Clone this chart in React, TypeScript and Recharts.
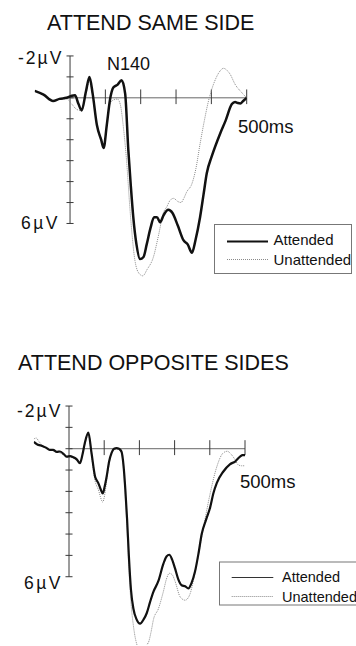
import React from "react";
import { LineChart, Line, XAxis, YAxis, ReferenceLine } from "recharts";

// time ticks (ms) and amplitude ticks (µV, negative up)
const timeTicks = [100, 200, 300, 400, 500];
const voltTicks = [-2, -1, 0, 1, 2, 3, 4, 5, 6];

// ATTEND SAME SIDE
const sameAttendedTimes = [-100, -75, -48, -30, -10, 5, 14, 24, 33, 45, 55, 64, 76, 88, 95, 104, 113, 123, 134, 146, 156, 165, 172, 179, 188, 198, 208, 217, 228, 238, 246, 255, 265, 278, 290, 305, 321, 333, 345, 355, 368, 378, 387, 401, 425, 440, 458, 467, 475, 482, 490, 500];
const sameAttendedValues = [-0.33, -0.15, 0.15, 0.05, 0.0, -0.1, -0.12, 0.3, 0.6, -0.3, -1.0, -0.2, 1.3, 2.0, 2.4, 1.3, 0.1, -0.5, -0.62, -0.84, -0.2, 2.5, 4.2, 5.7, 7.0, 7.7, 7.6, 7.0, 6.2, 5.7, 5.7, 5.94, 5.6, 5.35, 5.5, 6.1, 6.8, 7.0, 7.4, 6.8, 5.7, 4.6, 3.6, 2.8, 1.7, 1.1, 0.3, 0.2, 0.25, 0.27, 0.15, 0.0];

const sameUnattendedTimes = [-100, -75, -48, -30, -10, 5, 15, 28, 33, 45, 55, 64, 76, 88, 96, 104, 113, 123, 134, 142, 151, 160, 170, 184, 196, 206, 218, 236, 250, 264, 274, 283, 293, 305, 314, 322, 330, 345, 356, 368, 380, 392, 401, 412, 425, 434, 445, 453, 467, 486, 500];
const sameUnattendedValues = [-0.33, -0.15, 0.14, 0.05, 0.05, 0.3, 0.5, 0.6, 0.55, -0.2, -0.8, -0.1, 1.3, 1.9, 2.3, 1.3, 0.3, 0.1, 0.06, 0.3, 1.4, 3.0, 5.4, 7.8, 8.4, 8.5, 8.2, 7.6, 6.6, 5.5, 5.2, 4.9, 4.8, 4.95, 5.0, 4.8, 4.5, 4.1, 3.4, 2.2, 1.1, 0.14, -0.4, -0.9, -1.29, -1.41, -1.3, -1.13, -0.65, -0.25, 0.0];

// ATTEND OPPOSITE SIDES
const oppAttendedTimes = [-100, -90, -80, -73, -65, -55, -45, -35, -26, -15, -7, 3, 12, 22, 31, 38, 45, 55, 64, 74, 83, 90, 96, 101, 107, 114, 121, 128, 135, 142, 149, 155, 160, 165, 170, 176, 183, 192, 202, 212, 221, 230, 240, 254, 268, 277, 285, 293, 301, 310, 320, 330, 339, 348, 358, 368, 377, 390, 401, 410, 420, 438, 457, 472, 486, 493, 500];
const oppAttendedValues = [-0.32, -0.2, -0.15, -0.1, -0.05, 0.05, 0.05, 0.15, 0.13, 0.25, 0.37, 0.35, 0.4, 0.5, 0.68, 0.3, -0.27, -0.75, 0.2, 1.3, 1.6, 1.9, 2.1, 1.8, 1.3, 0.6, 0.2, 0.0, -0.03, 0.0, 0.13, 0.8, 1.9, 3.3, 5.0, 6.6, 7.5, 8.0, 8.2, 8.0, 7.7, 7.2, 6.7, 6.2, 5.4, 5.05, 4.97, 5.2, 5.6, 6.1, 6.4, 6.45, 6.55, 6.3, 5.76, 4.9, 4.0, 3.3, 2.75, 2.1, 1.6, 1.08, 0.73, 0.6, 0.37, 0.3, 0.3];

const oppUnattendedTimes = [-100, -93, -86, -75, -65, -55, -45, -35, -26, -15, -7, 3, 12, 22, 31, 38, 45, 55, 64, 74, 83, 96, 101, 107, 114, 121, 135, 149, 155, 160, 165, 170, 176, 183, 190, 197, 210, 225, 233, 240, 254, 268, 277, 285, 293, 301, 316, 330, 344, 353, 363, 382, 401, 420, 438, 450, 460, 472, 481, 490, 500];
const oppUnattendedValues = [-0.46, -0.5, -0.35, -0.15, -0.05, 0.05, 0.1, 0.15, 0.2, 0.3, 0.4, 0.4, 0.45, 0.55, 0.65, 0.3, -0.2, -0.65, 0.3, 1.5, 1.9, 2.5, 2.2, 1.5, 0.7, 0.2, 0.0, 0.2, 1.0, 2.3, 3.8, 5.6, 7.2, 8.3, 9.0, 9.3, 9.3, 9.1, 8.6, 8.0, 7.5, 6.7, 6.1, 5.84, 5.9, 6.2, 6.95, 7.1, 6.8, 6.2, 5.4, 3.7, 2.1, 0.84, 0.2, 0.12, 0.25, 0.52, 0.76, 0.8, 0.8];

const toPoints = (times: number[], values: number[]) => times.map((t, i) => ({ t, v: values[i] }));

const FONT = "'Liberation Sans', Arial, Helvetica, sans-serif";
const AXIS = "#3a3a3a";

interface PanelProps {
  top: number;
  height: number;
  margin: { top: number; right: number; bottom: number; left: number };
  yDomain: [number, number];
  attended: { t: number; v: number }[];
  unattended: { t: number; v: number }[];
  attendedWidth: number;
}

const Panel: React.FC<PanelProps> = ({ top, height, margin, yDomain, attended, unattended, attendedWidth }) => (
  <div style={{ position: "absolute", left: 0, top, width: 356, height }}>
    <LineChart width={356} height={height} margin={margin}>
      <XAxis type="number" dataKey="t" domain={[-100, 500]} hide allowDataOverflow />
      <YAxis type="number" dataKey="v" domain={yDomain} reversed hide allowDataOverflow />
      <ReferenceLine segment={[{ x: 0, y: -2 }, { x: 0, y: 6 }]} stroke={AXIS} strokeWidth={1} />
      <ReferenceLine segment={[{ x: 0, y: 0 }, { x: 500, y: 0 }]} stroke="#666" strokeWidth={1} />
      {voltTicks.map((v) => (
        <ReferenceLine key={"v" + v} segment={[{ x: -10, y: v }, { x: 10, y: v }]} stroke={AXIS} strokeWidth={1} />
      ))}
      {timeTicks.map((t) => (
        <ReferenceLine key={"t" + t} segment={[{ x: t, y: -0.4 }, { x: t, y: 0.3 }]} stroke={AXIS} strokeWidth={1} />
      ))}
      <Line data={unattended} dataKey="v" type="monotone" stroke="#8a8a8a" strokeWidth={1} strokeDasharray="1 1" dot={false} activeDot={false} isAnimationActive={false} />
      <Line data={attended} dataKey="v" type="monotone" stroke="#111" strokeWidth={attendedWidth} dot={false} activeDot={false} isAnimationActive={false} />
    </LineChart>
  </div>
);

export default function App() {
  return (
    <div style={{ position: "absolute", left: 0, top: 0, width: 356, height: 646, overflow: "hidden", background: "#fff", fontFamily: FONT }}>
      <Panel
        top={0}
        height={300}
        margin={{ top: 35, right: 109.3, bottom: 13.7, left: 34.7 }}
        yDomain={[-3, 9]}
        attended={toPoints(sameAttendedTimes, sameAttendedValues)}
        unattended={toPoints(sameUnattendedTimes, sameUnattendedValues)}
        attendedWidth={2.5}
      />
      <Panel
        top={320}
        height={326}
        margin={{ top: 64.7, right: 111, bottom: 1, left: 33.8 }}
        yDomain={[-3, 9.2]}
        attended={toPoints(oppAttendedTimes, oppAttendedValues)}
        unattended={toPoints(oppUnattendedTimes, oppUnattendedValues)}
        attendedWidth={2.2}
      />
      <svg width={356} height={646} style={{ position: "absolute", left: 0, top: 0, pointerEvents: "none" }} fontFamily={FONT} fill="#111">
        <text x={47} y={30} fontSize={21.5}>ATTEND SAME SIDE</text>
        <text x={18} y={63.5} fontSize={17.5} letterSpacing={2}>-2µV</text>
        <text x={21} y={229} fontSize={17.5} letterSpacing={2.5}>6µV</text>
        <text x={107} y={69.5} fontSize={18}>N140</text>
        <text x={238} y={132.7} fontSize={18.5}>500ms</text>
        <rect x={214.5} y={224.5} width={137} height={49} fill="#fff" stroke="#777" strokeWidth={1} />
        <line x1={227} x2={268} y1={241.5} y2={241.5} stroke="#111" strokeWidth={2} />
        <text x={273.5} y={245} fontSize={15}>Attended</text>
        <line x1={227} x2={268} y1={259.5} y2={259.5} stroke="#8a8a8a" strokeWidth={1} strokeDasharray="1 1" />
        <text x={273.5} y={264.5} fontSize={15}>Unattended</text>

        <text x={18} y={369.5} fontSize={21.5}>ATTEND OPPOSITE SIDES</text>
        <text x={17} y={417} fontSize={17.5} letterSpacing={2}>-2µV</text>
        <text x={24} y={588.5} fontSize={17.5} letterSpacing={2.5}>6µV</text>
        <text x={240} y={488.3} fontSize={18.5}>500ms</text>
        <rect x={219.5} y={562} width={137} height={43} fill="#fff" stroke="#777" strokeWidth={1} />
        <line x1={231.7} x2={273.3} y1={577.5} y2={577.5} stroke="#333" strokeWidth={1} />
        <text x={282} y={582} fontSize={14.5}>Attended</text>
        <line x1={231.7} x2={273.3} y1={596.5} y2={596.5} stroke="#8a8a8a" strokeWidth={1} strokeDasharray="1 1" />
        <text x={282} y={601.5} fontSize={14.5}>Unattended</text>
      </svg>
    </div>
  );
}
